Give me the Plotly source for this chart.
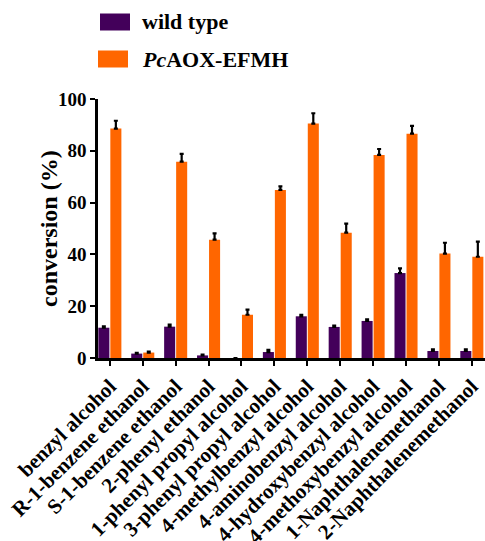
import plotly.graph_objects as go

categories = ["benzyl alcohol", "R-1-benzene ethanol", "S-1-benzene ethanol",
              "2-phenyl ethanol", "1-phenyl propyl alcohol", "3-phenyl propyl alcohol",
              "4-methylbenzyl alcohol", "4-aminobenzyl alcohol", "4-hydroxybenzyl alcohol",
              "4-methoxybenzyl alcohol", "1-Naphthalenemethanol", "2-Naphthalenemethanol"]
wild_type = [11.7, 1.7, 12.1, 1.0, 0.0, 2.3, 16.1, 12.0, 14.3, 32.8, 2.7, 2.7]
wild_err = [0.5, 0.3, 0.8, 0.3, 0.0, 0.8, 0.6, 0.5, 0.6, 1.8, 0.6, 0.6]
mutant = [88.6, 2.1, 75.8, 45.7, 16.7, 64.9, 90.5, 48.4, 78.4, 86.6, 40.3, 39.1]
mutant_err = [3.0, 0.4, 3.0, 2.4, 2.0, 1.4, 4.0, 3.5, 2.3, 3.0, 4.2, 5.8]
series_names = ["wild type", "<i>Pc</i>AOX-EFMH"]
colors = ["#43005A", "#FF6600"]
y_ticks = [0, 20, 40, 60, 80, 100]
y_title = "conversion (%)"

FONT = "Liberation Serif, Times New Roman, serif"
x_idx = list(range(len(categories)))

L, T, B = 98, 99, 183
PW, PH = 485 - L, 541 - T - B


def px_x(x):
    return (x - L) / PW


def px_y(y):
    return (541 - y - B) / PH


fig = go.Figure()
for vals, errs, col in [(wild_type, wild_err, colors[0]), (mutant, mutant_err, colors[1])]:
    fig.add_trace(go.Bar(
        x=x_idx, y=vals, marker=dict(color=col, line=dict(width=0)),
        error_y=dict(type="data", array=errs, arrayminus=[0] * len(errs), symmetric=False,
                     color="black", thickness=2.2, width=2),
        showlegend=False,
    ))

# custom legend
legend_y = [22, 59]
legend_x = [100, 98]
for i, (name, col) in enumerate(zip(series_names, colors)):
    yc = px_y(legend_y[i])
    fig.add_shape(type="rect", xref="paper", yref="paper",
                  x0=px_x(legend_x[i]), x1=px_x(legend_x[i] + 30),
                  y0=yc - 8.5 / PH, y1=yc + 8.5 / PH,
                  fillcolor=col, line=dict(width=0))
    fig.add_annotation(xref="paper", yref="paper", x=px_x(140),
                       y=yc, text="<b>" + name + "</b>",
                       showarrow=False, xanchor="left", yanchor="middle",
                       font=dict(family=FONT, size=22, color="black"))

# y-axis title
fig.add_annotation(xref="paper", yref="paper", x=px_x(49), y=px_y(229),
                   text="<b>" + y_title + "</b>", textangle=-90, showarrow=False,
                   xanchor="center", yanchor="middle",
                   font=dict(family=FONT, size=24, color="black"))

fig.update_layout(
    width=485, height=541,
    margin=dict(l=L, r=0, t=T, b=B, autoexpand=False),
    paper_bgcolor="white", plot_bgcolor="white",
    barmode="group", bargap=0.27, bargroupgap=0.08,
    font=dict(family=FONT, size=19, color="black"),
    xaxis=dict(
        tickmode="array", tickvals=x_idx,
        ticktext=["<b>" + c + "</b>" for c in categories],
        tickangle=-45, range=[-0.36, 11.4], automargin=False,
        showline=True, linecolor="black", linewidth=2.5,
        ticks="outside", ticklen=5, tickwidth=2, tickcolor="black",
        showgrid=False, zeroline=False,
        tickfont=dict(family=FONT, size=21, color="black"),
    ),
    yaxis=dict(
        range=[0, 100], tickvals=y_ticks, automargin=False,
        ticktext=["<b>%d</b>" % v for v in y_ticks],
        showline=True, linecolor="black", linewidth=2.5,
        ticks="outside", ticklen=5, tickwidth=2, tickcolor="black",
        showgrid=False, zeroline=False,
        tickfont=dict(family=FONT, size=19, color="black"),
    ),
)

fig.write_html("out.html", config={"displayModeBar": False},
               post_script="document.body.style.margin='0';document.body.style.padding='0';"
                           "document.body.style.overflow='hidden';")
